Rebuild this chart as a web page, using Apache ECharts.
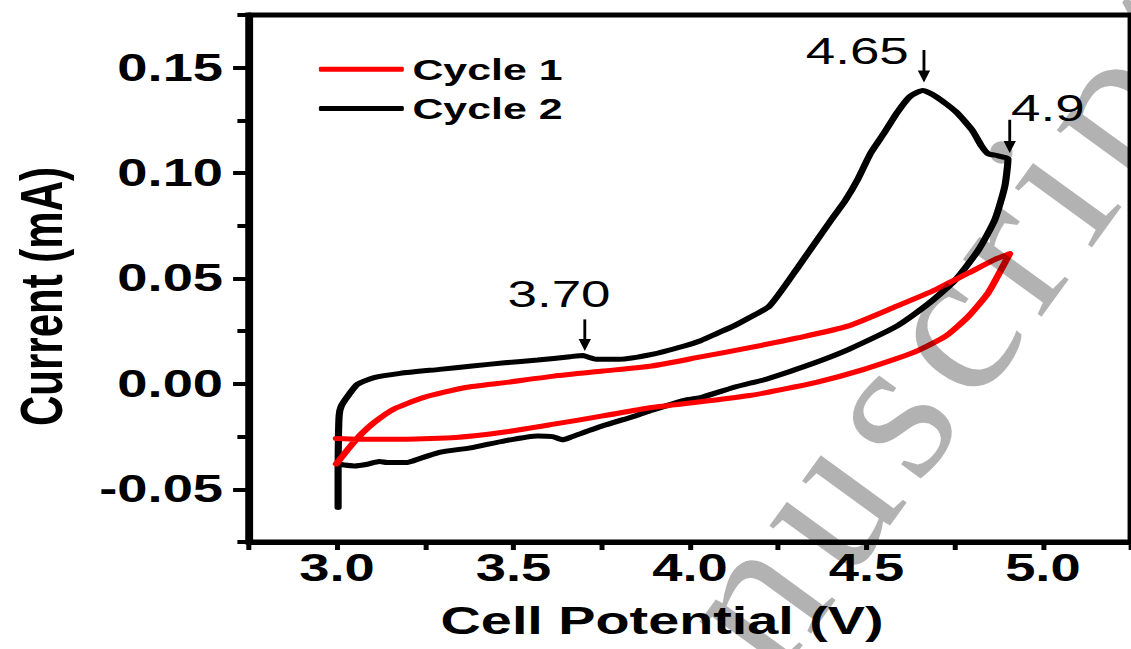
<!DOCTYPE html>
<html>
<head>
<meta charset="utf-8">
<script src="https://cdn.jsdelivr.net/npm/echarts@6/dist/echarts.min.js"></script>
<style>
html,body{margin:0;padding:0;background:#fff;overflow:hidden;}
#wrap{position:relative;width:1131px;height:649px;overflow:hidden;background:#fff;}
#chart{position:absolute;left:0;top:0;width:791px;height:649px;transform:scaleX(1.43);transform-origin:0 0;}
#wm{position:absolute;left:862px;top:443px;font-family:"Liberation Serif",serif;font-size:212px;letter-spacing:15px;line-height:1;color:rgba(0,0,0,0.3);white-space:nowrap;transform:translate(-50%,-50%) rotate(-54deg);pointer-events:none;}
</style>
</head>
<body>
<div id="wrap">
  <div id="chart"></div>
  <div id="wm">Manuscript</div>
</div>
<script>
// ---- data ----
const xTickValues = [3.0, 3.5, 4.0, 4.5, 5.0];
const yTickValues = [-0.05, 0.00, 0.05, 0.10, 0.15];

const cycle1V = [2.998, 3.031, 3.068, 3.105, 3.16, 3.244, 3.364, 3.475, 3.614, 3.753, 3.892, 4.03, 4.169, 4.308, 4.447, 4.586, 4.697, 4.79, 4.864, 4.906,
                 4.882, 4.845, 4.79, 4.725, 4.632, 4.493, 4.355, 4.216, 4.169, 4.03, 3.892, 3.753, 3.614, 3.475, 3.336, 3.197, 3.058, 2.998];
const cycle1I = [-0.038, -0.031, -0.0239, -0.0183, -0.012, -0.0065, -0.0017, 0.0006, 0.0037, 0.0061, 0.0085, 0.0128, 0.0172, 0.0219, 0.0274, 0.0369, 0.0448, 0.0527, 0.059, 0.0618,
                 0.0543, 0.0432, 0.0322, 0.0227, 0.0148, 0.0069, 0.0006, -0.0041, -0.0055, -0.0085, -0.0112, -0.0152, -0.0191, -0.0228, -0.0254, -0.0262, -0.0262, -0.0259];

const cycle2V = [3.003, 3.003, 3.004, 3.006, 3.012, 3.031, 3.058, 3.105, 3.179, 3.29, 3.383, 3.475, 3.568, 3.66, 3.697, 3.715, 3.734, 3.799, 3.892, 3.984,
                 4.03, 4.077, 4.123, 4.169, 4.225, 4.308, 4.401, 4.44, 4.475, 4.512, 4.55, 4.586, 4.623, 4.66, 4.697, 4.753, 4.799, 4.827, 4.845, 4.873, 4.901,
                 4.892, 4.864, 4.818, 4.753, 4.679, 4.586, 4.45, 4.342, 4.216, 4.169, 4.123, 4.03, 3.984, 3.892, 3.845, 3.753, 3.66, 3.64, 3.61, 3.568, 3.475,
                 3.383, 3.29, 3.216, 3.197, 3.142, 3.12, 3.086, 3.049, 3.021, 3.005];
const cycle2I = [-0.0586, -0.040, -0.025, -0.015, -0.0105, -0.0057, -0.0002, 0.003, 0.005, 0.0069, 0.0085, 0.010, 0.0113, 0.0129, 0.0135, 0.0125, 0.0117, 0.0117, 0.014, 0.018,
                 0.0205, 0.024, 0.0274, 0.0315, 0.0369, 0.0558, 0.078, 0.087, 0.0969, 0.1095, 0.119, 0.1285, 0.1363, 0.1392, 0.1363, 0.1292, 0.1205, 0.1126, 0.1092, 0.1082, 0.1067,
                 0.0937, 0.078, 0.0637, 0.0495, 0.0385, 0.0274, 0.0164, 0.0093, 0.0022, 0.0003, -0.0017, -0.0065, -0.0078, -0.0125, -0.0152, -0.0199, -0.0254, -0.0265, -0.025, -0.0247, -0.027,
                 -0.0302, -0.0325, -0.0365, -0.0373, -0.0373, -0.0368, -0.0381, -0.0389, -0.0385, -0.038];

const annotLabels = ['4.65', '4.9', '3.70'];
const annotTextX = [4.474, 5.014, 3.629];
const annotTextY = [0.1576, 0.1305, 0.0424];
const arrowX = [4.663, 4.906, 3.702];
const arrowTopY = [0.1584, 0.1253, 0.0306];
const arrowTipY = [0.143, 0.1095, 0.0156];

// ---- chart ----
const FONT = '"Liberation Sans", Arial, sans-serif';
const zip = (a, b) => a.map((v, i) => [v, b[i]]);
const chart = echarts.init(document.getElementById('chart'), null, {renderer: 'svg', width: 791, height: 649});

const option = {
  animation: false,
  backgroundColor: 'transparent',
  grid: {left: 167.8, right: -6, top: 15, bottom: 107, show: true, borderColor: '#000', borderWidth: 5, backgroundColor: 'transparent'},
  legend: {
    data: ['Cycle 1', 'Cycle 2'], orient: 'vertical', left: 218, top: 44.5,
    itemWidth: 59.4, itemHeight: 5, itemGap: 0, icon: 'roundRect',
    textStyle: {fontFamily: FONT, fontWeight: 'bold', fontSize: 30, color: '#000', lineHeight: 39.3, padding: [0, 0, 0, 1]}
  },
  xAxis: [{
    type: 'value', min: 2.75, max: 5.25, interval: 0.25,
    axisLine: {show: true, onZero: false, lineStyle: {color: '#000', width: 5}},
    axisTick: {show: true, inside: false, length: 8, lineStyle: {color: '#000', width: 3.5}},
    axisLabel: {customValues: xTickValues, formatter: v => v.toFixed(1), fontFamily: FONT, fontWeight: 'bold', fontSize: 38, color: '#000', margin: 7},
    splitLine: {show: false},
    name: 'Cell Potential (V)', nameLocation: 'middle', nameGap: 59,
    nameTextStyle: {fontFamily: FONT, fontWeight: 'bold', fontSize: 39, color: '#000', padding: [0, 39, 0, 0]}
  }],
  yAxis: [{
    type: 'value', min: -0.075, max: 0.175, interval: 0.025,
    axisLine: {show: true, onZero: false, lineStyle: {color: '#000', width: 5}},
    axisTick: {show: true, inside: false, length: 8, lineStyle: {color: '#000', width: 4}},
    axisLabel: {customValues: yTickValues, formatter: v => v.toFixed(2), fontFamily: FONT, fontWeight: 'bold', fontSize: 38, color: '#000', margin: 18},
    splitLine: {show: false},
    name: 'Current (mA)', nameLocation: 'middle', nameRotate: 90, nameGap: 124,
    nameTextStyle: {fontFamily: FONT, fontWeight: 'bold', fontSize: 42, color: '#000', padding: [0, 36, 0, 0]}
  }, {
    type: 'value', min: -0.075, max: 0.175, interval: 0.025, position: 'left',
    axisLine: {show: false},
    axisTick: {show: true, inside: false, length: 11, customValues: yTickValues, lineStyle: {color: '#000', width: 4}},
    axisLabel: {show: false},
    splitLine: {show: false}
  }],
  series: [{
    name: 'Cycle 2', type: 'line', data: zip(cycle2V, cycle2I), showSymbol: false, symbol: 'none', z: 2, smooth: 0.2,
    lineStyle: {color: '#000', width: 5, join: 'round', cap: 'round'}, itemStyle: {color: '#000'}
  }, {
    name: 'Cycle 1', type: 'line', data: zip(cycle1V, cycle1I), showSymbol: false, symbol: 'none', z: 3, smooth: 0.2,
    lineStyle: {color: '#ff0000', width: 5, join: 'round', cap: 'round'}, itemStyle: {color: '#ff0000'}
  }]
};
chart.setOption(option);

// annotations placed through the chart's own scales
const graphics = [];
annotLabels.forEach((t, i) => {
  const p = chart.convertToPixel({xAxisIndex: 0, yAxisIndex: 0}, [annotTextX[i], annotTextY[i]]);
  graphics.push({type: 'text', x: p[0], y: p[1], z: 50,
    style: {text: t, font: '37px "Liberation Sans", Arial, sans-serif', fill: '#000', align: 'center', verticalAlign: 'middle'}});
  const top = chart.convertToPixel({xAxisIndex: 0, yAxisIndex: 0}, [arrowX[i], arrowTopY[i]]);
  const tip = chart.convertToPixel({xAxisIndex: 0, yAxisIndex: 0}, [arrowX[i], arrowTipY[i]]);
  const headH = 12, headW = 4.3;
  graphics.push({type: 'line', z: 50, shape: {x1: top[0], y1: top[1], x2: tip[0], y2: tip[1] - headH + 1},
    style: {stroke: '#000', lineWidth: 2}});
  graphics.push({type: 'polygon', z: 50, shape: {points: [[tip[0] - headW, tip[1] - headH], [tip[0] + headW, tip[1] - headH], [tip[0], tip[1]]]},
    style: {fill: '#000'}});
});
chart.setOption({graphic: graphics});
</script>
</body>
</html>
